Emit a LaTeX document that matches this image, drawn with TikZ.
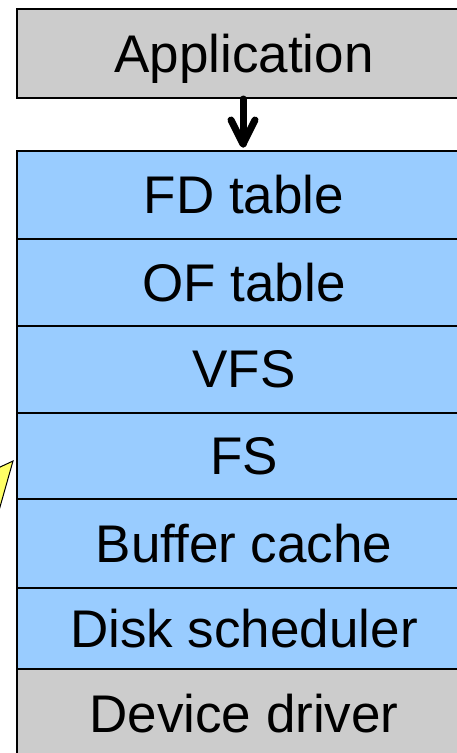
\documentclass[tikz,border=0pt]{standalone}
\usepackage{fontspec}
\setmainfont{Liberation Sans}
\definecolor{boxgrey}{HTML}{CCCCCC}
\definecolor{boxblue}{HTML}{99CCFF}
\definecolor{callout}{HTML}{FFFF66}
\tikzset{
  layer/.style={draw=black, line width=2pt, minimum width=454pt, inner sep=0pt, anchor=north west,
    font=\fontsize{53}{60}\selectfont, text=black},
  greylayer/.style={layer, fill=boxgrey},
  bluelayer/.style={layer, fill=boxblue},
  thickarrow/.style={draw=black, line width=7pt, line cap=round, line join=round},
}
\begin{document}
\begin{tikzpicture}[x=1pt,y=-1pt]
\useasboundingbox (0,0) rectangle (457,753);
\clip (0,0) rectangle (457,753);
\node[greylayer, minimum height=89pt, text depth=-3pt] (app) at (16,8) {Application};
\node[bluelayer, minimum height=88pt] (fd) at (16,150) {FD table};
\node[bluelayer, minimum height=87pt] (of) at (16,238) {OF table};
\node[bluelayer, minimum height=87pt] (vfs) at (16,325) {VFS};
\node[bluelayer, minimum height=86pt] (fs) at (16,412) {FS};
\node[bluelayer, minimum height=89pt] (bc) at (16,498) {Buffer cache};
\node[bluelayer, minimum height=81pt] (ds) at (16,587) {Disk scheduler};
\node[greylayer, minimum height=90pt] (dd) at (16,668) {Device driver};
\coordinate (astart) at (243,99);
\coordinate (aend) at (243,144);
\draw[thickarrow] (astart) -- (aend);
\draw[thickarrow] ([xshift=-12pt, yshift=24pt]aend) -- (aend) -- ([xshift=12pt, yshift=24pt]aend);
\filldraw[fill=callout, draw=black, line width=1pt] (13,461) -- (-2,468) -- (-2,514) -- cycle;
\end{tikzpicture}
\end{document}
